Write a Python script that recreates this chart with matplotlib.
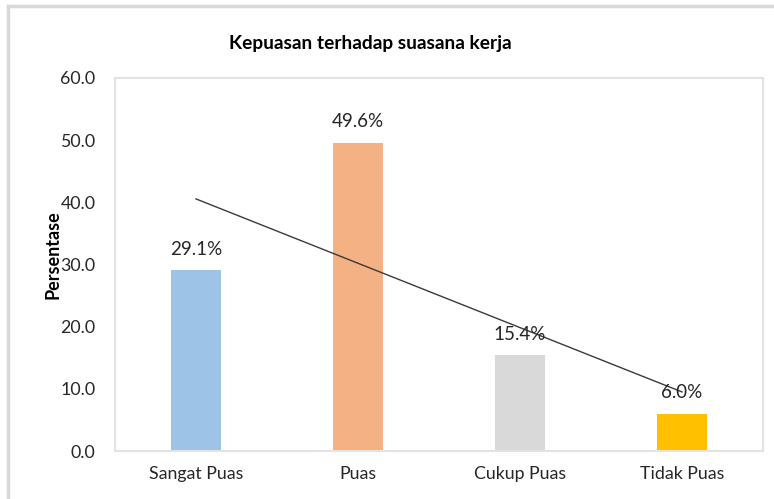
import numpy as np
import matplotlib
matplotlib.use("Agg")
import matplotlib.pyplot as plt
from matplotlib.lines import Line2D

categories = ["Sangat Puas", "Puas", "Cukup Puas", "Tidak Puas"]
values = [29.1, 49.6, 15.4, 6.0]
colors = ["#9DC3E6", "#F4B183", "#D9D9D9", "#FFC000"]
yticks = [0, 10, 20, 30, 40, 50, 60]
title = "Kepuasan terhadap suasana kerja"
ylabel = "Persentase"

plt.rcParams['font.family'] = ['Lato', 'DejaVu Sans']

fig = plt.figure(figsize=(7.74, 4.99), dpi=100)
ax = fig.add_axes([115/774, 1-451/499, (763-115)/774, (451-78)/499])

x = np.arange(len(categories))
ax.bar(x, values, width=0.31, color=colors, zorder=2)
for xi, v in zip(x, values):
    ax.annotate(f"{v:.1f}%", (xi, v), xytext=(0, 9), textcoords="offset points",
                ha="center", va="bottom", fontsize=13.5, color="#262626", zorder=4)

# linear trendline
coef = np.polyfit(x, values, 1)
ax.plot(x, np.polyval(coef, x), color="#3A3A3A", lw=1.0, zorder=3)

ax.set_xlim(-0.5, len(categories) - 0.5)
ax.set_ylim(0, 60)
ax.set_yticks(yticks)
ax.set_yticklabels([f"{t:.1f}" for t in yticks], fontsize=12.8, color="#262626")
ax.set_xticks(x)
ax.set_xticklabels(categories, fontsize=12.8, color="#262626")
ax.tick_params(axis="both", length=0)
ax.tick_params(axis="y", pad=14)
ax.tick_params(axis="x", pad=11)
for s in ax.spines.values():
    s.set_color("#E3E3E3")
    s.set_linewidth(1.5)

ax.set_ylabel(ylabel, fontsize=13, fontweight="bold", color="black")
ax.yaxis.set_label_coords((53-115)/648, (451-255)/373)
ax.yaxis.label.set_va("center")

fig.text(370/774, 1-44/499, title, ha="center", va="center", fontsize=13.8, fontweight="bold")

# outer chart border
fig.add_artist(Line2D([8/774, 1.0], [1-6/499, 1-6/499], color="#D9D9D9", lw=2.5, transform=fig.transFigure))
fig.add_artist(Line2D([8/774, 8/774], [1-6/499, 0], color="#D9D9D9", lw=2.5, transform=fig.transFigure))

fig.savefig("out.png", dpi=100)
